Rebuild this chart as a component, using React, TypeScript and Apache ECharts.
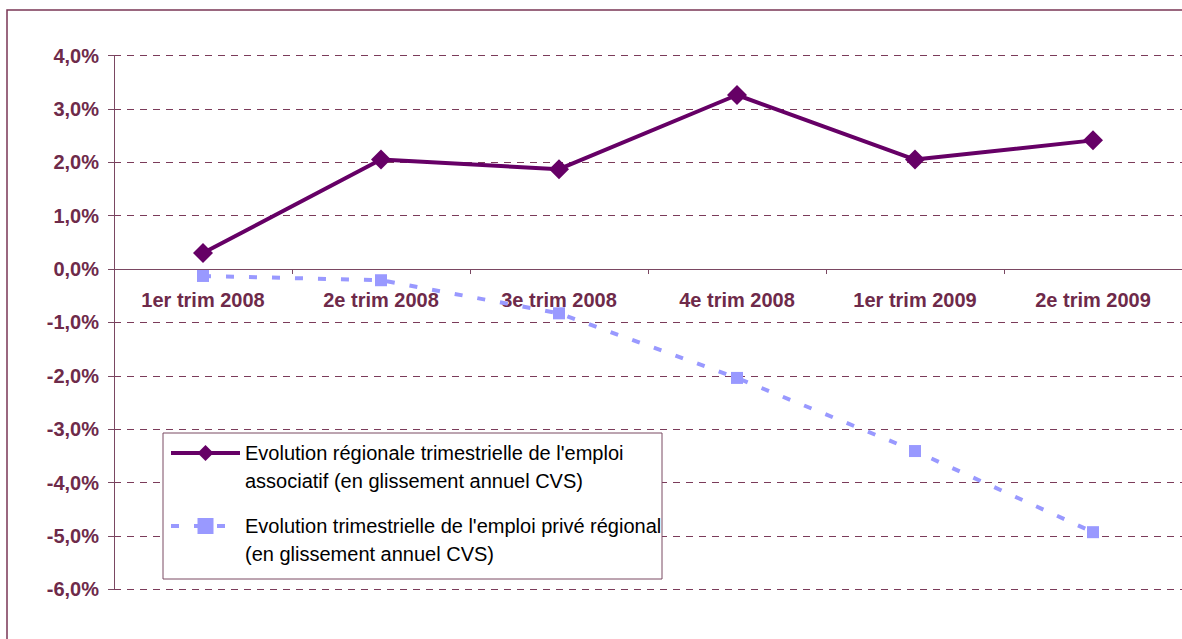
import React, { useEffect, useRef } from "react";
import * as echarts from "echarts";

const categories = [
  "1er trim 2008",
  "2e trim 2008",
  "3e trim 2008",
  "4e trim 2008",
  "1er trim 2009",
  "2e trim 2009",
];
const associatif = [0.3, 2.05, 1.87, 3.26, 2.05, 2.41];
const prive = [-0.13, -0.21, -0.83, -2.04, -3.41, -4.93];
const seriesNames = ["Associatif", "Privé"];
const legendLabels = [
  "Evolution régionale trimestrielle de l'emploi\nassociatif (en glissement annuel CVS)",
  "Evolution trimestrielle de l'emploi privé régional\n(en glissement annuel CVS)",
];
const yMin = -6;
const yMax = 4;
const yInterval = 1;

const MAROON = "#6e2a4a";
const GRID_TOP = 55.5;
const GRID_HEIGHT = 533.8;

export default function App() {
  const ref = useRef<HTMLDivElement>(null);
  useEffect(() => {
    if (!ref.current) return;
    const chart = echarts.init(ref.current, null, { renderer: "svg" });
    const zeroOffset = -GRID_HEIGHT * (0 - yMin) / (yMax - yMin);
    chart.setOption({
      animation: false,
      backgroundColor: "#ffffff",
      grid: { left: 114, top: GRID_TOP, width: 1075, height: GRID_HEIGHT, containLabel: false },
      xAxis: {
        type: "category",
        data: categories,
        boundaryGap: true,
        offset: zeroOffset,
        axisLine: { onZero: false, lineStyle: { color: "#7a4862", width: 1 } },
        axisTick: { show: true, length: 5, inside: false, lineStyle: { color: "#7a4862" } },
        axisLabel: {
          interval: 0,
          margin: 21,
          color: MAROON,
          fontFamily: "Liberation Sans, Arial, sans-serif",
          fontWeight: "bold",
          fontSize: 20,
        },
        splitLine: { show: false },
      },
      yAxis: {
        type: "value",
        min: yMin,
        max: yMax,
        interval: yInterval,
        axisLine: { show: true, onZero: false, lineStyle: { color: "#7a4862", width: 1 } },
        axisTick: { show: true, length: 6, lineStyle: { color: "#7a4862" } },
        axisLabel: {
          margin: 15,
          color: MAROON,
          fontFamily: "Liberation Sans, Arial, sans-serif",
          fontWeight: "bold",
          fontSize: 20,
          formatter: (v: number) => v.toFixed(1).replace(".", ",") + "%",
        },
        splitLine: {
          show: true,
          lineStyle: { color: "#7b3b5a", type: [7, 6], width: 1 },
        },
      },
      legend: {
        orient: "vertical",
        left: 169,
        top: 411,
        padding: 0,
        itemWidth: 69,
        itemHeight: 20,
        itemGap: -11,
        selectedMode: false,
        data: seriesNames,
        lineStyle: { width: 4 },
        formatter: (name: string) => "\n" + legendLabels[seriesNames.indexOf(name)],
        textStyle: {
          color: "#000000",
          fontFamily: "Liberation Sans, Arial, sans-serif",
          fontSize: 20,
          lineHeight: 28,
        },
      },
      graphic: {
        elements: [
          {
            type: "rect",
            z: -10,
            silent: true,
            shape: { x: 7, y: 10, width: 1300, height: 800 },
            style: { fill: "none", stroke: "#7a3655", lineWidth: 1.5 },
          },
          {
            type: "rect",
            z: 1,
            silent: true,
            shape: { x: 163, y: 433, width: 499, height: 146 },
            style: { fill: "#ffffff", stroke: "#7a4a62", lineWidth: 1 },
          },
        ],
      },
      series: [
        {
          name: seriesNames[0],
          type: "line",
          data: associatif,
          symbol: "diamond",
          symbolSize: 20,
          z: 3,
          lineStyle: { color: "#660066", width: 4 },
          itemStyle: { color: "#660066" },
        },
        {
          name: seriesNames[1],
          type: "line",
          data: prive,
          symbol: "rect",
          symbolSize: 12,
          z: 2,
          lineStyle: { color: "#9999ff", width: 4, type: [8, 15] },
          itemStyle: { color: "#9999ff" },
        },
      ],
    });
    return () => chart.dispose();
  }, []);
  return (
    <div
      ref={ref}
      style={{ position: "fixed", left: 0, top: 0, width: 1182, height: 639 }}
    />
  );
}
